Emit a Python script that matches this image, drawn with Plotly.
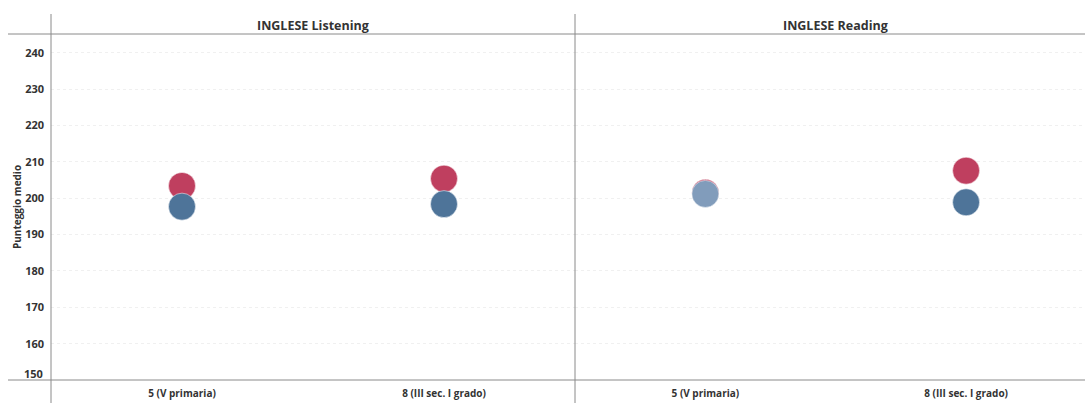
import plotly.graph_objects as go

categories = ["5 (V primaria)", "8 (III sec. I grado)"]
panels = ["INGLESE Listening", "INGLESE Reading"]
red_listening = [203.4, 205.4]
blue_listening = [197.7, 198.4]
red_reading = [201.5, 207.6]
blue_reading = [201.2, 198.9]
y_ticks = [150, 160, 170, 180, 190, 200, 210, 220, 230, 240]
y_title = "Punteggio medio"

RED = "#BF3F5F"
BLUE = "#4E7499"
LIGHT = "#819CBB"
LINE = "#8a8a8a"
TXT = "#333333"
FONT = "Open Sans"

W, H = 1085, 403
def px(x):
    return x / W
def py(y):
    return (H - y) / H

fig = go.Figure()
msize = 27
fig.add_trace(go.Scatter(x=categories, y=red_listening, mode="markers",
                         marker=dict(size=msize, color=RED, line=dict(width=0.5, color="white")),
                         xaxis="x", yaxis="y", showlegend=False))
fig.add_trace(go.Scatter(x=categories, y=blue_listening, mode="markers",
                         marker=dict(size=msize, color=BLUE, line=dict(width=0.5, color="white")),
                         xaxis="x", yaxis="y", showlegend=False))
fig.add_trace(go.Scatter(x=categories, y=red_reading, mode="markers",
                         marker=dict(size=msize, color=RED, line=dict(width=0.5, color="white")),
                         xaxis="x2", yaxis="y2", showlegend=False))
fig.add_trace(go.Scatter(x=categories, y=blue_reading, mode="markers",
                         marker=dict(size=msize, color=[LIGHT, BLUE], line=dict(width=0.5, color="white")),
                         xaxis="x2", yaxis="y2", showlegend=False))

ydom = [py(380), py(34)]
yrange = [150, 245.2]
tickfont = dict(family=FONT, size=11, color=TXT, weight="bold")
xtickfont = dict(family=FONT, size=10, color=TXT, weight="bold")

common_x = dict(type="category", range=[-0.5, 1.5], showgrid=False, zeroline=False,
                showline=False, ticks="", tickfont=xtickfont, fixedrange=True,
                ticklabelstandoff=6)
fig.update_layout(
    width=W, height=H,
    margin=dict(l=0, r=0, t=0, b=0),
    paper_bgcolor="white", plot_bgcolor="white",
    xaxis=dict(domain=[px(51), px(575)], anchor="y", **common_x),
    xaxis2=dict(domain=[px(575), 1.0], anchor="y2",
                **{**common_x, "range": [-0.5, 1.456]}),
    yaxis=dict(domain=ydom, range=yrange, tickvals=y_ticks[1:], ticks="",
               tickfont=tickfont, showgrid=True, gridcolor="#f0f0f0", griddash="dot",
               gridwidth=1, zeroline=False, showline=False, fixedrange=True, ticklabelstandoff=6),
    yaxis2=dict(domain=ydom, range=yrange, anchor="x2", tickvals=y_ticks[1:], showticklabels=False,
                ticks="", showgrid=True, gridcolor="#f0f0f0", griddash="dot",
                gridwidth=1, zeroline=False, showline=False, fixedrange=True),
)

# lowest tick label (shifted up as in the reference)
fig.add_annotation(x=px(45), y=y_ticks[0], xref="paper", yref="y", text=str(y_ticks[0]),
                   xanchor="right", yanchor="middle", yshift=7, showarrow=False, font=tickfont)

# panel headers
hfont = dict(family=FONT, size=12.5, color=TXT, weight="bold")
fig.add_annotation(x=px(313), y=py(25), xref="paper", yref="paper", text=panels[0],
                   xanchor="center", yanchor="middle", showarrow=False, font=hfont)
fig.add_annotation(x=px(835), y=py(25), xref="paper", yref="paper", text=panels[1],
                   xanchor="center", yanchor="middle", showarrow=False, font=hfont)

# y title
fig.add_annotation(x=px(17), y=py(207), xref="paper", yref="paper", text=y_title, textangle=-90,
                   xanchor="center", yanchor="middle",
                   showarrow=False, font=dict(family=FONT, size=10, color=TXT, weight="bold"))

# frame lines
for (x0, y0, x1, y1) in [(8, 34, W, 34), (8, 380, W, 380), (51, 14, 51, 403), (575, 14, 575, 403)]:
    fig.add_shape(type="line", xref="paper", yref="paper", x0=px(x0), y0=py(y0), x1=px(x1), y1=py(y1),
                  line=dict(color=LINE, width=1))

fig.write_html("out.html", config={"displayModeBar": False},
               post_script="document.body.style.margin='0';document.body.style.overflow='hidden';")
